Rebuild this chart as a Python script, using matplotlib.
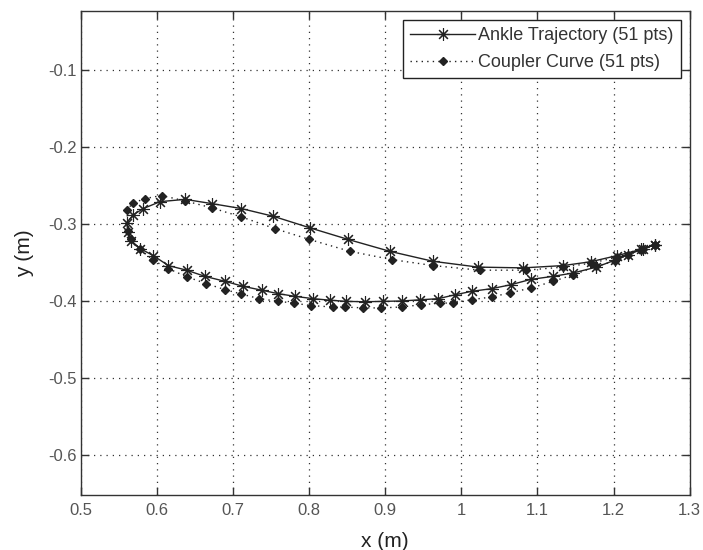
import matplotlib
matplotlib.use("Agg")
import matplotlib.pyplot as plt
import numpy as np

plt.rcParams["font.family"] = ["Liberation Sans", "DejaVu Sans"]

# Ankle trajectory: upper (swing) branch right -> left, then lower (stance) branch left -> right
ankle_x = [
    1.254, 1.236, 1.205, 1.170, 1.134, 1.081, 1.022, 0.963, 0.906, 0.851,
    0.801, 0.753, 0.711, 0.672, 0.637, 0.604, 0.582, 0.569, 0.560,
    0.5625, 0.566, 0.578, 0.595, 0.615, 0.639, 0.663, 0.6895, 0.7135, 0.7376,
    0.7595, 0.7814, 0.8054, 0.8273, 0.849, 0.873, 0.8973, 0.9215, 0.9455, 0.9696,
    0.9915, 1.0134, 1.0397, 1.0646, 1.091, 1.1205, 1.147, 1.1775, 1.2016, 1.219,
    1.2387, 1.254,
]
ankle_y = [
    -0.327, -0.333, -0.341, -0.349, -0.354, -0.357, -0.356, -0.3485, -0.3355, -0.320,
    -0.305, -0.290, -0.280, -0.2735, -0.268, -0.271, -0.280, -0.288, -0.2986,
    -0.311, -0.3216, -0.332, -0.341, -0.354, -0.360, -0.368, -0.3745, -0.381, -0.386,
    -0.3905, -0.394, -0.397, -0.399, -0.4005, -0.401, -0.4005, -0.400, -0.3985, -0.397,
    -0.392, -0.3875, -0.384, -0.379, -0.372, -0.368, -0.3636, -0.356, -0.347, -0.340,
    -0.3323, -0.327,
]

# Coupler curve of the synthesised linkage, same 51 crank positions
coupler_x = [
    1.254, 1.236, 1.205, 1.170, 1.134, 1.085, 1.024, 0.963, 0.909, 0.8536,
    0.800, 0.755, 0.711, 0.672, 0.637, 0.606, 0.5844, 0.569, 0.5604,
    0.5625, 0.5656, 0.578, 0.595, 0.615, 0.639, 0.665, 0.6895, 0.711, 0.7345,
    0.7595, 0.780, 0.802, 0.8317, 0.847, 0.871, 0.895, 0.9215, 0.9465, 0.972,
    0.989, 1.0134, 1.0397, 1.0637, 1.092, 1.1205, 1.147, 1.1775, 1.2016, 1.219,
    1.2387, 1.254,
]
coupler_y = [
    -0.327, -0.334, -0.343, -0.351, -0.356, -0.360, -0.360, -0.354, -0.3463, -0.3355,
    -0.320, -0.306, -0.2908, -0.279, -0.270, -0.263, -0.267, -0.2726, -0.2813,
    -0.3095, -0.320, -0.333, -0.347, -0.358, -0.3685, -0.3775, -0.3853, -0.391, -0.397,
    -0.4005, -0.4027, -0.406, -0.4078, -0.4078, -0.409, -0.409, -0.4078, -0.405, -0.4027,
    -0.4027, -0.3983, -0.3948, -0.3895, -0.383, -0.3745, -0.366, -0.355, -0.348, -0.340,
    -0.333, -0.327,
]

x_ticks = [0.5, 0.6, 0.7, 0.8, 0.9, 1.0, 1.1, 1.2, 1.3]
x_tick_labels = ["0.5", "0.6", "0.7", "0.8", "0.9", "1", "1.1", "1.2", "1.3"]
y_ticks = [-0.6, -0.5, -0.4, -0.3, -0.2, -0.1]
y_tick_labels = ["-0.6", "-0.5", "-0.4", "-0.3", "-0.2", "-0.1"]

fig = plt.figure(figsize=(7.03, 5.5), dpi=100)
fig.patch.set_facecolor("white")
ax = fig.add_axes([0.115, 0.1, 0.866, 0.8805])

ax.plot(ankle_x, ankle_y, color="#222222", linewidth=1.0,
        marker=(8, 2, 0), markersize=9, markeredgewidth=0.8,
        label="Ankle Trajectory (51 pts)")
ax.plot(coupler_x, coupler_y, color="#222222", linewidth=1.0, linestyle=(0, (1, 3)),
        marker="D", markersize=3.8, markerfacecolor="#222222", markeredgecolor="#222222",
        label="Coupler Curve (51 pts)")

ax.set_xlim(0.5, 1.3)
ax.set_ylim(-0.652, -0.023)
ax.set_xticks(x_ticks)
ax.set_xticklabels(x_tick_labels)
ax.set_yticks(y_ticks)
ax.set_yticklabels(y_tick_labels)

ax.grid(True, color="#333333", linestyle=(0, (1, 4)), linewidth=0.9)
ax.tick_params(direction="in", length=6, width=1, top=True, right=True,
               labelsize=12, labelcolor="#555555", colors="#333333")
ax.tick_params(axis="x", pad=6)
ax.tick_params(axis="y", pad=3)
for sp in ax.spines.values():
    sp.set_color("#333333")
    sp.set_linewidth(1.0)

ax.set_xlabel("x (m)", fontsize=15, color="#222222", labelpad=10)
ax.set_ylabel("y (m)", fontsize=15, color="#222222", labelpad=10)

leg = ax.legend(loc="upper right", fontsize=13, handlelength=3.6, framealpha=1,
                fancybox=False, edgecolor="#222222", borderaxespad=0.5,
                labelspacing=0.55, handletextpad=0.15, borderpad=0.4)
for t in leg.get_texts():
    t.set_color("#333333")

fig.savefig("out.png", dpi=100, facecolor="white")
